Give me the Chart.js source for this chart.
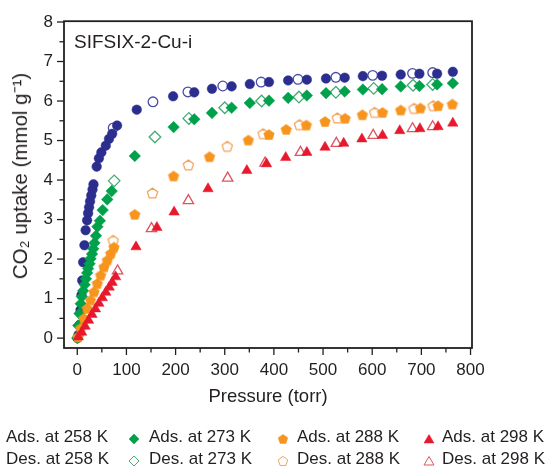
<!DOCTYPE html>
<html><head><meta charset="utf-8">
<script src="https://cdn.jsdelivr.net/npm/chart.js@4.4.0/dist/chart.umd.min.js"></script>
<style>
html,body{margin:0;padding:0;background:#fff;}
#wrap{position:relative;width:552px;height:471px;overflow:hidden;font-family:"Liberation Sans",Arial,sans-serif;color:#231f20;}
#c{position:absolute;left:0;top:0;}
#label{position:absolute;left:74px;top:31px;font-size:19px;line-height:22px;white-space:nowrap;}
#ytitle{position:absolute;left:19px;top:176px;transform:translate(-50%,-50%) rotate(-90deg);white-space:nowrap;font-size:20.5px;}
.leg{position:absolute;font-size:17px;line-height:20px;white-space:nowrap;}
.mk{position:absolute;width:12px;height:12px;}
</style></head>
<body>
<div id="wrap">
<canvas id="c" width="552" height="471"></canvas>
<div id="label">SIFSIX-2-Cu-i</div>
<div id="ytitle">CO₂ uptake (mmol g⁻¹)</div>
<div id="legend"></div>
</div>
<script>
// ---- data (pressure in torr, uptake in mmol/g) ----
const temperatures = [258, 273, 288, 298];
const ads258P = [0.4, 2.4, 4.5, 6.5, 8.5, 10, 12, 14.6, 17, 20, 22, 24, 26, 28.5, 31, 33, 39.5, 44, 49, 58, 64.5, 71, 81, 121, 195, 238, 274, 314, 351, 390, 429, 467, 506, 544, 581, 620, 658, 696, 732, 764];
const ads258U = [0.0, 0.08, 0.33, 0.71, 1.09, 1.46, 1.92, 2.35, 2.73, 2.98, 3.16, 3.31, 3.46, 3.61, 3.76, 3.89, 4.34, 4.55, 4.70, 4.87, 5.04, 5.17, 5.38, 5.78, 6.12, 6.22, 6.31, 6.37, 6.43, 6.48, 6.52, 6.54, 6.57, 6.59, 6.63, 6.64, 6.67, 6.69, 6.69, 6.74];
const des258P = [73, 154, 225, 296, 374, 449, 526, 601, 682, 723];
const des258U = [5.32, 5.98, 6.23, 6.38, 6.48, 6.55, 6.60, 6.65, 6.70, 6.72];
const ads273P = [0, 2, 4.5, 7, 9.5, 12, 15, 17.7, 20, 22, 25, 27, 30, 32.5, 35, 38, 41, 46, 51.6, 61, 70, 117, 196, 238, 274, 314, 351, 390, 429, 467, 506, 544, 581, 620, 658, 696, 732, 764];
const ads273U = [0, 0.32, 0.62, 0.87, 1.05, 1.20, 1.35, 1.50, 1.65, 1.76, 1.88, 2.01, 2.13, 2.26, 2.41, 2.59, 2.82, 2.97, 3.24, 3.51, 3.72, 4.61, 5.34, 5.54, 5.70, 5.83, 5.95, 6.01, 6.08, 6.14, 6.20, 6.24, 6.29, 6.30, 6.37, 6.38, 6.42, 6.45];
const des273P = [75, 158, 227, 300, 375, 451, 526, 603, 683, 723];
const des273U = [3.98, 5.09, 5.56, 5.83, 6.00, 6.10, 6.22, 6.32, 6.40, 6.42];
const ads288P = [1.4, 7, 13.6, 20, 27, 34, 40.7, 47.6, 54.3, 61, 68, 74.6, 117, 196, 269, 348, 390, 425, 466, 504, 545, 580, 621, 658, 698, 734, 763];
const ads288U = [0.02, 0.24, 0.49, 0.74, 0.95, 1.16, 1.37, 1.58, 1.79, 1.96, 2.13, 2.29, 3.12, 4.09, 4.58, 5.00, 5.14, 5.27, 5.38, 5.47, 5.55, 5.64, 5.70, 5.76, 5.81, 5.87, 5.91];
const des288P = [73, 153, 226, 305, 378, 452, 529, 605, 685, 724];
const des288U = [2.46, 3.66, 4.37, 4.84, 5.16, 5.39, 5.56, 5.70, 5.80, 5.87];
const ads298P = [2, 9, 16, 23, 30, 37, 44, 51, 58, 65, 71, 78, 119.5, 162, 197, 266, 345, 385, 424, 467, 504, 542, 579, 621, 656, 697, 734, 764];
const ads298U = [0.03, 0.15, 0.30, 0.45, 0.60, 0.74, 0.88, 1.02, 1.16, 1.29, 1.41, 1.55, 2.31, 2.80, 3.19, 3.78, 4.24, 4.41, 4.57, 4.70, 4.83, 4.93, 5.04, 5.13, 5.25, 5.30, 5.35, 5.44];
const des298P = [82, 151, 226, 306, 382, 454, 527, 602, 682, 723];
const des298U = [1.70, 2.77, 3.48, 4.05, 4.43, 4.70, 4.93, 5.13, 5.30, 5.35];

const xTickValues = [0, 100, 200, 300, 400, 500, 600, 700, 800];
const xMinorValues = [50, 150, 250, 350, 450, 550, 650, 750];
const yTickValues = [0, 1, 2, 3, 4, 5, 6, 7, 8];
const yMinorValues = [0.5, 1.5, 2.5, 3.5, 4.5, 5.5, 6.5, 7.5];

const adsLabels = temperatures.map(t => 'Ads. at ' + t + ' K');
const desLabels = temperatures.map(t => 'Des. at ' + t + ' K');

// ---- styles ----
const C = {
  blue: '#2b2e8f', blueO: '#4a4ea6',
  green: '#00a14b', greenO: '#45ad73',
  orange: '#f7941d', orangeO: '#f3a35a',
  red: '#e8192c', redO: '#dc5560'
};

function pentagonCanvas(r, fill, stroke, lw) {
  const s = Math.ceil(2 * r + 4);
  const cv = document.createElement('canvas');
  cv.width = s; cv.height = s;
  const g = cv.getContext('2d');
  const cx = s / 2, cy = s / 2;
  g.beginPath();
  for (let i = 0; i < 5; i++) {
    const a = -Math.PI / 2 + i * 2 * Math.PI / 5;
    const px = cx + r * Math.cos(a), py = cy + r * Math.sin(a);
    if (i === 0) g.moveTo(px, py); else g.lineTo(px, py);
  }
  g.closePath();
  g.fillStyle = fill; g.fill();
  g.lineWidth = lw; g.strokeStyle = stroke; g.lineJoin = 'round'; g.stroke();
  return cv;
}

function ds(label, P, U, style, radius, fill, stroke, bw, order) {
  return {
    label, data: P.map((p, i) => ({x: p, y: U[i]})),
    pointStyle: style, pointRadius: radius, pointHoverRadius: radius,
    backgroundColor: fill, borderColor: stroke, borderWidth: bw,
    showLine: false, order
  };
}

const datasets = [
  ds(adsLabels[3], ads298P, ads298U, 'triangle', 6.0, C.red, C.red, 0.5, 1),
  ds(adsLabels[2], ads288P, ads288U, pentagonCanvas(5.6, C.orange, C.orange, 0.5), 5.6, C.orange, C.orange, 0, 2),
  ds(adsLabels[1], ads273P, ads273U, 'rectRot', 5.8, C.green, C.green, 0.5, 3),
  ds(adsLabels[0], ads258P, ads258U, 'circle', 4.8, C.blue, C.blue, 0.5, 4),
  ds(desLabels[3], des298P, des298U, 'triangle', 6.0, '#ffffff', C.redO, 1.3, 5),
  ds(desLabels[2], des288P, des288U, pentagonCanvas(5.4, '#ffffff', C.orangeO, 1.3), 5.6, '#ffffff', C.orangeO, 0, 6),
  ds(desLabels[1], des273P, des273U, 'rectRot', 5.8, '#ffffff', C.greenO, 1.3, 7),
  ds(desLabels[0], des258P, des258U, 'circle', 4.8, '#ffffff', C.blueO, 1.3, 8)
];

const frameTicks = {
  id: 'frameTicks',
  afterDraw(chart) {
    const {ctx, chartArea: a, scales: {x, y}} = chart;
    ctx.save();
    ctx.strokeStyle = '#231f20';
    ctx.lineWidth = 1.8;
    ctx.strokeRect(a.left, a.top, a.right - a.left, a.bottom - a.top);
    ctx.lineWidth = 1.3;
    const tick = (x1, y1, x2, y2) => { ctx.beginPath(); ctx.moveTo(x1, y1); ctx.lineTo(x2, y2); ctx.stroke(); };
    xTickValues.forEach(v => { const p = x.getPixelForValue(v); tick(p, a.bottom, p, a.bottom + 7); });
    xMinorValues.forEach(v => { const p = x.getPixelForValue(v); tick(p, a.bottom, p, a.bottom + 4.5); });
    yTickValues.forEach(v => { const p = y.getPixelForValue(v); tick(a.left, p, a.left - 7, p); });
    yMinorValues.forEach(v => { const p = y.getPixelForValue(v); tick(a.left, p, a.left - 4.5, p); });
    ctx.restore();
  }
};

new Chart(document.getElementById('c'), {
  type: 'scatter',
  data: {datasets},
  options: {
    responsive: false, animation: false, devicePixelRatio: 1,
    layout: {padding: {left: 0, top: 21, right: 80, bottom: 60}},
    plugins: {legend: {display: false}, tooltip: {enabled: false}},
    scales: {
      x: {
        type: 'linear', min: -27, max: 803,
        grid: {display: false, drawTicks: false}, border: {display: false},
        afterBuildTicks: s => { s.ticks = xTickValues.map(v => ({value: v})); },
        afterFit: s => { s.height = 63; },
        ticks: {padding: 12, color: '#231f20', font: {family: '"Liberation Sans", Arial, sans-serif', size: 17}, maxRotation: 0},
        title: {display: true, text: 'Pressure (torr)', color: '#231f20', padding: {top: 0, bottom: 3},
          font: {family: '"Liberation Sans", Arial, sans-serif', size: 18.5}}
      },
      y: {
        type: 'linear', min: -0.25, max: 8.02,
        grid: {display: false, drawTicks: false}, border: {display: false},
        afterBuildTicks: s => { s.ticks = yTickValues.map(v => ({value: v})); },
        afterFit: s => { s.width = 64; },
        ticks: {padding: 11, color: '#231f20', font: {family: '"Liberation Sans", Arial, sans-serif', size: 17}}
      }
    }
  },
  plugins: [frameTicks]
});

// ---- HTML legend ----
const legendCols = [
  {mx: null, tx: 6},
  {mx: 134, tx: 149},
  {mx: 283, tx: 297},
  {mx: 429, tx: 442}
];
const rowsY = [437, 459];
const kinds = ['circle', 'diamond', 'pentagon', 'triangle'];
const fills = [[C.blue, C.blueO], [C.green, C.greenO], [C.orange, C.orangeO], [C.red, C.redO]];
function svgMarker(kind, filled, col, colO) {
  const f = filled ? col : '#ffffff', s = filled ? col : colO, w = filled ? 0.5 : 1;
  let shape;
  if (kind === 'circle') shape = `<circle cx="6" cy="6" r="4.5"/>`;
  else if (kind === 'diamond') shape = `<polygon points="6,1 11,6 6,11 1,6"/>`;
  else if (kind === 'pentagon') {
    const pts = [];
    for (let i = 0; i < 5; i++) { const a = -Math.PI / 2 + i * 2 * Math.PI / 5; pts.push((6 + 5 * Math.cos(a)).toFixed(2) + ',' + (6.4 + 5 * Math.sin(a)).toFixed(2)); }
    shape = `<polygon points="${pts.join(' ')}"/>`;
  } else shape = `<polygon points="6,1.5 11,10 1,10"/>`;
  return `<svg width="12" height="12" viewBox="0 0 12 12"><g fill="${f}" stroke="${s}" stroke-width="${w}">${shape}</g></svg>`;
}
let html = '';
[adsLabels, desLabels].forEach((labels, r) => {
  labels.forEach((lab, i) => {
    const col = legendCols[i];
    if (col.mx !== null) html += `<div class="mk" style="left:${col.mx - 6}px;top:${rowsY[r] - 6}px">${svgMarker(kinds[i], r === 0, fills[i][0], fills[i][1])}</div>`;
    html += `<div class="leg" style="left:${col.tx}px;top:${rowsY[r] - 10}px">${lab}</div>`;
  });
});
document.getElementById('legend').innerHTML = html;
</script>
</body></html>
